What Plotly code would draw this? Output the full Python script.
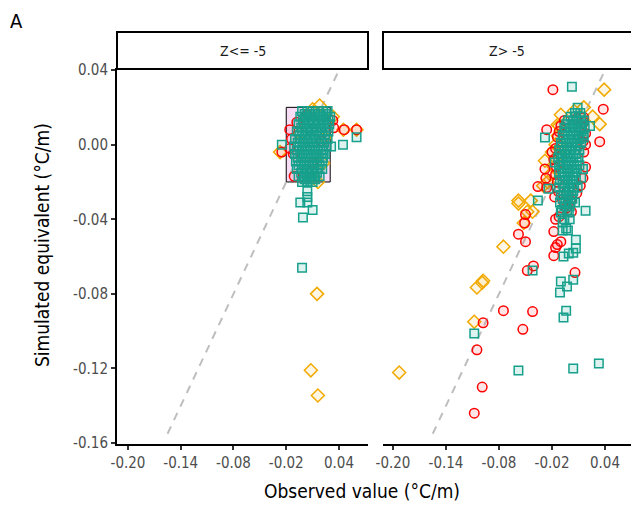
import plotly.graph_objects as go

W, H = 631, 508

# ---------------- data ----------------
x_tick_vals = [-0.20, -0.14, -0.08, -0.02, 0.04]
x_tick_text = ["-0.20", "-0.14", "-0.08", "-0.02", "0.04"]
y_tick_vals = [0.04, 0.00, -0.04, -0.08, -0.12, -0.16]
y_tick_text = ["0.04", "0.00", "-0.04", "-0.08", "-0.12", "-0.16"]
panel_titles = ["Z<= -5", "Z> -5"]
identity_line = [-0.155, 0.045]
highlight_box_x = [-0.02, 0.03]
highlight_box_y = [-0.02, 0.02]

# Left panel (Z <= -5)
left_red_x = [0.046, 0.060, -0.025, -0.011, -0.016, -0.014, -0.016, -0.012, 0.033, 0.034, -0.008, 0.010, 0.020, 0.004]
left_red_y = [0.008, 0.008, -0.004, -0.017, 0.008, 0.003, -0.002, -0.005, 0.013, 0.009, 0.012, -0.010, 0.002, 0.016]
left_orange_x = [0.018, 0.045, 0.060, -0.027, 0.016, 0.022, 0.033, 0.015, 0.008, 0.016, 0.010, -0.004, 0.024]
left_orange_y = [0.021, 0.008, 0.008, -0.004, -0.020, -0.010, 0.015, -0.080, -0.121, -0.1345, 0.019, 0.006, 0.004]
left_teal_x = [
    -0.002, 0.004, 0.010, 0.016, 0.022, 0.027,
    -0.004, 0.002, 0.008, 0.013, 0.019, 0.025, 0.030,
    -0.006, 0.000, 0.006, 0.011, 0.017, 0.023, 0.029,
    -0.008, -0.002, 0.004, 0.009, 0.015, 0.021, 0.028,
    -0.010, -0.004, 0.002, 0.008, 0.014, 0.020, 0.027,
    -0.011, -0.005, 0.001, 0.007, 0.013, 0.019, 0.026,
    -0.010, -0.004, 0.002, 0.008, 0.014, 0.020, 0.024,
    -0.009, -0.003, 0.003, 0.009, 0.015, 0.021,
    -0.008, -0.002, 0.004, 0.010, 0.016, 0.021,
    -0.006, 0.000, 0.006, 0.012, 0.018,
    -0.002, 0.004, 0.010,
    0.001, 0.007, 0.013, 0.019, 0.025,
    -0.001, 0.005, 0.011, 0.016, 0.022, 0.028,
    -0.003, 0.003, 0.009, 0.014, 0.020, 0.026,
    -0.005, 0.001, 0.007, 0.012, 0.018, 0.024,
    -0.007, -0.001, 0.005, 0.011, 0.017, 0.023,
    -0.008, -0.002, 0.004, 0.010, 0.016, 0.022,
    -0.007, -0.001, 0.005, 0.011, 0.017, 0.022,
    -0.006, 0.000, 0.006, 0.012, 0.018,
    -0.003, 0.003, 0.009, 0.015,
    0.001, 0.007, 0.013,
    -0.025, 0.0445, 0.060, 0.031,
    0.004, 0.004, 0.004, -0.004, 0.004, 0.010, -0.001, -0.002,
]
left_teal_y = [
    0.018, 0.018, 0.018, 0.018, 0.018, 0.018,
    0.015, 0.015, 0.015, 0.015, 0.015, 0.015, 0.015,
    0.011, 0.011, 0.011, 0.011, 0.011, 0.011, 0.011,
    0.007, 0.007, 0.007, 0.007, 0.007, 0.007, 0.007,
    0.003, 0.003, 0.003, 0.003, 0.003, 0.003, 0.003,
    -0.001, -0.001, -0.001, -0.001, -0.001, -0.001, -0.001,
    -0.005, -0.005, -0.005, -0.005, -0.005, -0.005, -0.005,
    -0.009, -0.009, -0.009, -0.009, -0.009, -0.009,
    -0.013, -0.013, -0.013, -0.013, -0.013, -0.013,
    -0.017, -0.017, -0.017, -0.017, -0.017,
    -0.020, -0.020, -0.020,
    0.0165, 0.0165, 0.0165, 0.0165, 0.0165,
    0.013, 0.013, 0.013, 0.013, 0.013, 0.013,
    0.009, 0.009, 0.009, 0.009, 0.009, 0.009,
    0.005, 0.005, 0.005, 0.005, 0.005, 0.005,
    0.001, 0.001, 0.001, 0.001, 0.001, 0.001,
    -0.003, -0.003, -0.003, -0.003, -0.003, -0.003,
    -0.007, -0.007, -0.007, -0.007, -0.007, -0.007,
    -0.011, -0.011, -0.011, -0.011, -0.011,
    -0.015, -0.015, -0.015, -0.015,
    -0.0185, -0.0185, -0.0185,
    0.000, 0.000, 0.004, -0.001,
    -0.020, -0.025, -0.028, -0.031, -0.031, -0.035, -0.039, -0.066,
]

# Right panel (Z > -5)
right_red_x = [
    -0.019, 0.038, -0.026, 0.034, 0.018, -0.028, -0.027, -0.036, -0.026,
    -0.050, -0.051, -0.058, -0.050, -0.041, -0.048, -0.075, -0.042, -0.098,
    -0.053, -0.105, -0.099, -0.108, -0.018, -0.010, -0.014, -0.016, -0.018,
    0.006, -0.012, -0.016, -0.007, 0.001,
    -0.010, -0.006, 0.016, 0.018, -0.014, -0.016, -0.018, -0.020, -0.015,
    -0.016, 0.016, 0.015, -0.014, -0.013, 0.008, 0.012, 0.018, -0.012,
    0.008, -0.017, 0.016, 0.015, -0.004, 0.002,
]
right_red_y = [
    0.0295, 0.019, 0.008, 0.0016, -0.012, -0.013, -0.018, -0.0225, -0.023,
    -0.0375, -0.042, -0.048, -0.052, -0.065, -0.0675, -0.089, -0.0895, -0.0955,
    -0.099, -0.110, -0.130, -0.144, -0.0466, -0.052, -0.0536, -0.0552, -0.0595,
    -0.0686, -0.0386, -0.040, -0.0306, -0.030,
    0.010, 0.013, 0.012, 0.006, 0.004, -0.002, -0.008, -0.004, -0.012,
    -0.016, -0.004, -0.018, -0.020, -0.025, -0.026, -0.022, 0.000, 0.007,
    0.014, -0.028, 0.0145, 0.0016, -0.034, -0.036,
]
right_orange_x = [
    0.039, 0.016, 0.026, 0.034, -0.0135, -0.028, -0.058, -0.044, -0.058,
    -0.048, -0.042, -0.052, -0.075, -0.098, -0.099, -0.105, -0.108, -0.193,
    -0.012, -0.016, -0.020, -0.018, -0.022, -0.025, -0.010, 0.005, -0.030,
    -0.0135, -0.010, -0.012,
]
right_orange_y = [
    0.0295, 0.020, 0.015, 0.011, 0.0048, -0.0086, -0.030, -0.030, -0.0316,
    -0.036, -0.036, -0.042, -0.0547, -0.073, -0.074, -0.0766, -0.095, -0.1222,
    0.010, 0.000, -0.004, -0.012, -0.016, -0.020, 0.016, 0.018, -0.022,
    0.0107, -0.001, -0.005,
]
right_teal_x = [
    0.0025, 0.009, 0.023, -0.028, 0.016, -0.017, -0.024, -0.036, 0.018,
    -0.042, -0.010, 0.004, -0.003, -0.011, -0.004, -0.007, -0.108, -0.058,
    0.004, 0.033, 0.007, 0.007, -0.007, -0.001, 0.004, -0.010, -0.001,
    -0.008, -0.004, 0.015, 0.013, 0.009,
    0.006, 0.012,
    -0.002, 0.004, 0.010, 0.016,
    -0.006, 0.000, 0.006, 0.012, 0.017,
    -0.008, -0.002, 0.004, 0.010, 0.015,
    -0.010, -0.004, 0.002, 0.008, 0.013,
    -0.012, -0.006, 0.000, 0.006, 0.011,
    -0.013, -0.008, -0.002, 0.004, 0.010,
    -0.012, -0.007, -0.001, 0.005, 0.011,
    -0.012, -0.006, 0.000, 0.006,
    -0.011, -0.005, 0.001, 0.007,
    -0.012, -0.006, 0.000, 0.005,
    -0.010, -0.004, 0.002,
    -0.011, -0.005, 0.001, 0.006,
    -0.009, -0.003,
    -0.006, 0.000,
    -0.008, -0.002,
    0.001, 0.007, 0.013,
    -0.004, 0.003, 0.009, 0.014,
    -0.005, 0.001, 0.007, 0.013,
    -0.007, -0.001, 0.005, 0.011,
    -0.009, -0.003, 0.003, 0.009,
    -0.010, -0.005, 0.001, 0.007,
    -0.010, -0.004, 0.002, 0.008,
    -0.009, -0.003, 0.003, 0.008,
    -0.008, -0.002, 0.004,
    -0.008, -0.002, 0.003,
    -0.007, -0.001, 0.004,
    -0.008, -0.002, 0.003,
    -0.006, 0.000,
]
right_teal_y = [
    0.031, 0.0198, 0.010, 0.0038, 0.0038, -0.0096, -0.0236, -0.030, -0.0354,
    -0.0675, -0.0734, -0.0724, -0.0761, -0.0793, -0.089, -0.0927, -0.1013, -0.1211,
    -0.120, -0.1174, -0.051, -0.0557, -0.060, -0.0584, -0.058, -0.0364, -0.0364,
    -0.0418, -0.045, -0.013, -0.0177, -0.023,
    0.017, 0.017,
    0.013, 0.013, 0.013, 0.013,
    0.009, 0.009, 0.009, 0.009, 0.009,
    0.005, 0.005, 0.005, 0.005, 0.005,
    0.001, 0.001, 0.001, 0.001, 0.001,
    -0.003, -0.003, -0.003, -0.003, -0.003,
    -0.007, -0.007, -0.007, -0.007, -0.007,
    -0.011, -0.011, -0.011, -0.011, -0.011,
    -0.015, -0.015, -0.015, -0.015,
    -0.019, -0.019, -0.019, -0.019,
    -0.023, -0.023, -0.023, -0.023,
    -0.027, -0.027, -0.027,
    -0.031, -0.031, -0.031, -0.031,
    -0.035, -0.035,
    -0.040, -0.040,
    -0.046, -0.046,
    0.015, 0.015, 0.015,
    0.011, 0.011, 0.011, 0.011,
    0.007, 0.007, 0.007, 0.007,
    0.003, 0.003, 0.003, 0.003,
    -0.001, -0.001, -0.001, -0.001,
    -0.005, -0.005, -0.005, -0.005,
    -0.009, -0.009, -0.009, -0.009,
    -0.013, -0.013, -0.013, -0.013,
    -0.017, -0.017, -0.017,
    -0.021, -0.021, -0.021,
    -0.025, -0.025, -0.025,
    -0.029, -0.029, -0.029,
    -0.033, -0.033,
]

# ---------------- styling ----------------
RED = "#FF0000"
ORANGE = "#F2A900"
TEAL = "#17A08C"
FONT = "DejaVu Sans Condensed, Liberation Sans Narrow, sans-serif"


def px_x(p):
    return p / W


def px_y(p):
    return 1 - p / H


fig = go.Figure()


def add_group(xs, ys, xa, ya, symbol, color, fill, size):
    fig.add_trace(go.Scatter(
        x=xs, y=ys, mode="markers", xaxis=xa, yaxis=ya, showlegend=False,
        marker=dict(symbol=symbol, size=size, color=fill,
                    line=dict(color=color, width=1.5)),
        hoverinfo="skip",
    ))


for xa, ya in (("x", "y"), ("x2", "y2")):
    fig.add_trace(go.Scatter(
        x=identity_line, y=identity_line, mode="lines", xaxis=xa, yaxis=ya,
        showlegend=False, line=dict(color="#BEBEBE", width=2, dash="8px,7px"),
        hoverinfo="skip",
    ))

add_group(left_orange_x, left_orange_y, "x", "y", "diamond", ORANGE, "rgba(245,170,0,0.10)", 10)
add_group(left_red_x, left_red_y, "x", "y", "circle", RED, "rgba(255,0,0,0.10)", 9.5)
add_group(left_teal_x, left_teal_y, "x", "y", "square", TEAL, "rgba(23,160,140,0.14)", 8.5)

add_group(right_orange_x, right_orange_y, "x2", "y2", "diamond", ORANGE, "rgba(245,170,0,0.10)", 10)
add_group(right_red_x, right_red_y, "x2", "y2", "circle", RED, "rgba(255,0,0,0.10)", 9.5)
add_group(right_teal_x, right_teal_y, "x2", "y2", "square", TEAL, "rgba(23,160,140,0.14)", 8.5)

y_dom = [px_y(444), px_y(68)]
axis_common = dict(
    showgrid=False, zeroline=False, showline=True, linecolor="black", linewidth=2,
    ticks="outside", ticklen=4, tickwidth=1.5, tickcolor="#333333", automargin=False,
    tickfont=dict(family=FONT, size=15, color="#4D4D4D"),
)

fig.update_layout(
    width=W, height=H,
    margin=dict(l=0, r=0, t=0, b=0, pad=0, autoexpand=False),
    paper_bgcolor="white", plot_bgcolor="white",
    xaxis=dict(domain=[px_x(117), px_x(368)], range=[-0.2125, 0.073], anchor="y",
               tickvals=x_tick_vals, ticktext=x_tick_text, **axis_common),
    xaxis2=dict(domain=[px_x(383), 1.0], range=[-0.2113, 0.0694], anchor="y2",
                tickvals=x_tick_vals, ticktext=x_tick_text, **axis_common),
    yaxis=dict(domain=y_dom, range=[-0.1605, 0.0411], anchor="x",
               tickvals=y_tick_vals, ticktext=y_tick_text, **axis_common),
    yaxis2=dict(domain=y_dom, range=[-0.1605, 0.0411], anchor="x2", automargin=False,
                showgrid=False, zeroline=False, showline=False, showticklabels=False,
                ticks=""),
    shapes=[
        dict(type="rect", xref="x", yref="y", layer="below",
             x0=highlight_box_x[0], x1=highlight_box_x[1],
             y0=highlight_box_y[0], y1=highlight_box_y[1],
             fillcolor="#F9DCF6", line=dict(color="black", width=1)),
        dict(type="rect", xref="paper", yref="paper",
             x0=px_x(117), x1=px_x(368), y0=px_y(69), y1=px_y(32),
             fillcolor="white", line=dict(color="black", width=2)),
        dict(type="rect", xref="paper", yref="paper",
             x0=px_x(383), x1=px_x(640), y0=px_y(69), y1=px_y(32),
             fillcolor="white", line=dict(color="black", width=2)),
    ],
    annotations=[
        dict(text=panel_titles[0], xref="paper", yref="paper", x=px_x(242.5), y=px_y(50.5),
             xanchor="center", yanchor="middle",
             showarrow=False, font=dict(family=FONT, size=14, color="#1A1A1A")),
        dict(text=panel_titles[1], xref="paper", yref="paper", x=px_x(507), y=px_y(50.5),
             xanchor="center", yanchor="middle",
             showarrow=False, font=dict(family=FONT, size=14, color="#1A1A1A")),
        dict(text="A", xref="paper", yref="paper", x=px_x(16), y=px_y(21),
             xanchor="center", yanchor="middle",
             showarrow=False, font=dict(family=FONT, size=20, color="black")),
        dict(text="Observed value (°C/m)", xref="paper", yref="paper",
             x=px_x(362), y=px_y(491), xanchor="center", yanchor="middle", showarrow=False,
             font=dict(family=FONT, size=19, color="black")),
        dict(text="Simulated equivalent (°C/m)", xref="paper", yref="paper",
             x=px_x(42), y=px_y(245), xanchor="center", yanchor="middle",
             showarrow=False, textangle=-90,
             font=dict(family=FONT, size=19, color="black")),
    ],
)

fig.write_html(
    "out.html",
    config={"displayModeBar": False},
    post_script="document.body.style.margin='0';document.body.style.padding='0';",
)
